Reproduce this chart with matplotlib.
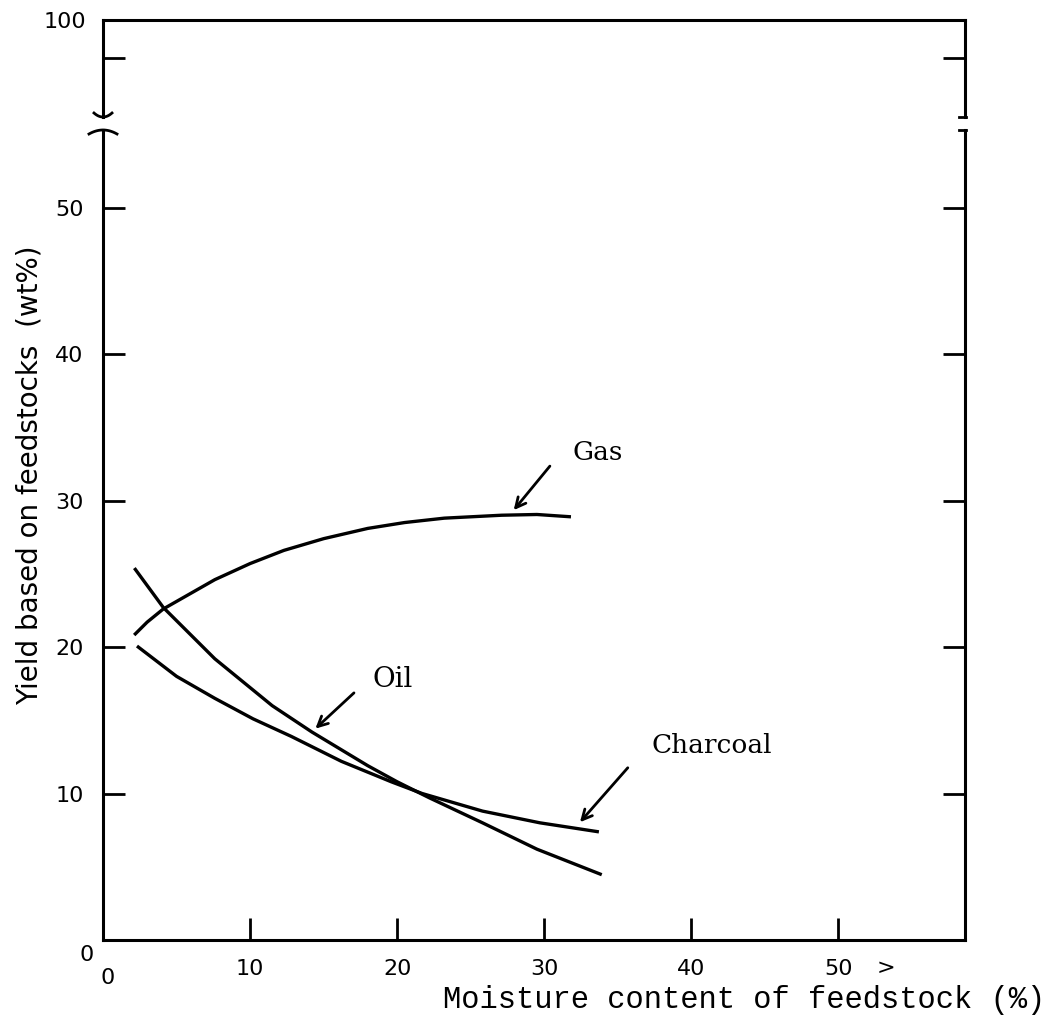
import numpy as np
import matplotlib.pyplot as plt

# curves (moisture %, yield wt%)
gas_x = [2.2, 3.0, 4.1, 7.6, 10.0, 12.3, 15.0, 18.0, 20.5, 23.2, 27.1, 29.5, 31.7]
gas_y = [20.9, 21.7, 22.6, 24.6, 25.7, 26.6, 27.4, 28.1, 28.5, 28.8, 29.0, 29.05, 28.9]

oil_x = [2.2, 4.1, 7.6, 11.5, 14.2, 18.0, 20.0, 22.2, 25.8, 29.5, 33.8]
oil_y = [25.3, 22.7, 19.2, 16.0, 14.2, 11.9, 10.8, 9.7, 8.0, 6.2, 4.5]

char_x = [2.4, 5.0, 7.6, 10.2, 12.8, 16.2, 19.6, 21.7, 25.8, 29.7, 33.6]
char_y = [20.0, 18.0, 16.5, 15.1, 13.9, 12.2, 10.8, 10.0, 8.8, 8.0, 7.4]

x_ticks = [0, 10, 20, 30, 40, 50]
y_ticks = [0, 10, 20, 30, 40, 50]

W, H = 1054, 1021
fig = plt.figure(figsize=(W / 100, H / 100), dpi=100)

def box(l, t, r, b):
    return [l / W, 1 - b / H, (r - l) / W, (b - t) / H]

ax = fig.add_axes(box(103, 130, 965, 940))
top = fig.add_axes(box(103, 20, 965, 117), sharex=ax)

lw = 2.4
for a in (ax, top):
    for s in a.spines.values():
        s.set_linewidth(2.2)
ax.spines['top'].set_visible(False)
top.spines['bottom'].set_visible(False)

ax.plot(gas_x, gas_y, color='black', lw=lw)
ax.plot(oil_x, oil_y, color='black', lw=lw)
ax.plot(char_x, char_y, color='black', lw=lw)

ax.set_xlim(0, 58.6)
ax.set_ylim(0, 55.3)
top.set_ylim(74.5, 100)

ax.set_xticks(x_ticks[1:])
ax.set_xticklabels([str(v) for v in x_ticks[1:]])
ax.set_yticks(y_ticks[1:])
ax.set_yticklabels([str(v) for v in y_ticks[1:]])
ax.tick_params(axis='x', direction='in', length=16, width=2, pad=14, labelsize=16)
ax.tick_params(axis='y', direction='in', length=16, width=2, pad=14, labelsize=16,
               left=True, right=True)
top.set_yticks([90, 100])
top.set_yticklabels(['', '100'])
top.tick_params(axis='y', direction='in', length=16, width=2, pad=12, labelsize=16,
                left=True, right=True)
top.tick_params(axis='x', bottom=False, top=False, labelbottom=False)

# origin labels
ax.text(-0.6, -1.0, '0', ha='right', va='center', fontsize=16)
ax.text(0.3, -2.6, '0', ha='center', va='center', fontsize=16)
ax.text(53.2, -1.9, '>', ha='center', va='center', fontsize=16)

# axis break marks
t = np.linspace(-1, 1, 30)
for xc, half, yc, amp in [(103, 9, 113, 4), (103, 14, 134, -4)]:
    xs = xc + half * t
    ys = yc + amp * (1 - t ** 2)
    fig.add_artist(plt.Line2D(xs / W, 1 - ys / H, color='black', lw=2,
                              transform=fig.transFigure))
for yy in (117, 130):
    fig.add_artist(plt.Line2D([959 / W, 966 / W], [1 - yy / H, 1 - yy / H],
                              color='black', lw=2, transform=fig.transFigure))

# labels with arrows
arrow = dict(arrowstyle='->', color='black', lw=2, mutation_scale=18)
ax.annotate('', xy=(27.8, 29.2), xytext=(30.5, 32.5), arrowprops=arrow)
ax.text(31.9, 33.3, 'Gas', ha='left', va='center', fontsize=19, family='DejaVu Serif')
ax.annotate('', xy=(14.3, 14.3), xytext=(17.2, 17.0), arrowprops=arrow)
ax.text(18.3, 17.8, 'Oil', ha='left', va='center', fontsize=20, family='DejaVu Serif')
ax.annotate('', xy=(32.3, 7.9), xytext=(35.8, 11.9), arrowprops=arrow)
ax.text(37.3, 13.3, 'Charcoal', ha='left', va='center', fontsize=19, family='DejaVu Serif')

fig.text(30 / W, 1 - 475 / H, 'Yield based on feedstocks  (wt%)', rotation=90,
         ha='center', va='center', fontsize=20)
fig.text(1045 / W, 1 - 1000 / H, 'Moisture content of feedstock (%)', ha='right',
         va='center', fontsize=22, family='Liberation Mono')

fig.savefig('out.png', dpi=100)
